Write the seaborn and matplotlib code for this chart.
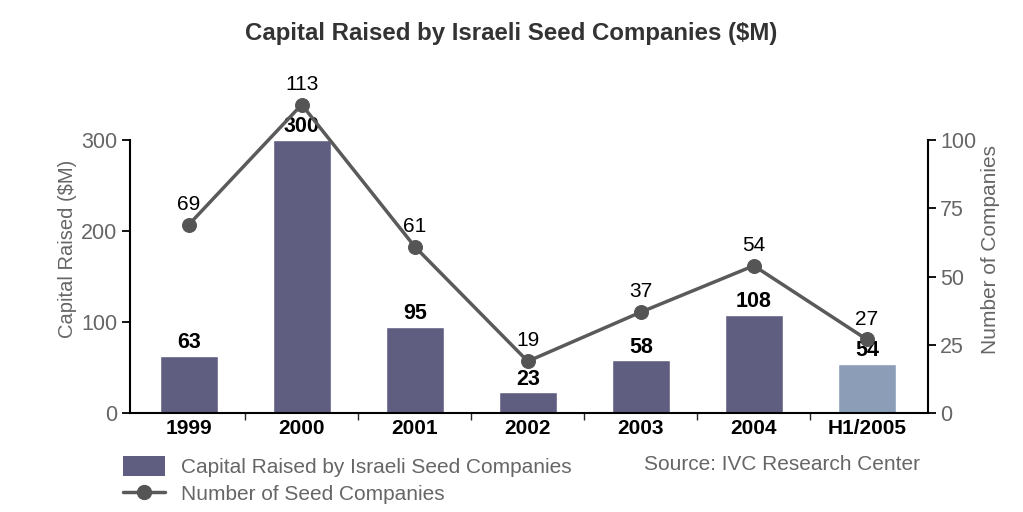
import matplotlib
matplotlib.use("Agg")
import matplotlib.pyplot as plt
import seaborn as sns
import pandas as pd
from matplotlib.patches import Patch
from matplotlib.lines import Line2D

years = ["1999", "2000", "2001", "2002", "2003", "2004", "H1/2005"]
capital = [63, 300, 95, 23, 58, 108, 54]
companies = [69, 113, 61, 19, 37, 54, 27]
bar_colors = ["#605e80"] * 6 + ["#8c9db8"]

sns.set_theme(style="white")
plt.rcParams['font.family'] = ['Liberation Sans', 'DejaVu Sans']

df = pd.DataFrame({"year": years, "capital": capital, "companies": companies})

fig = plt.figure(figsize=(10.23, 5.12), dpi=100)
ax = fig.add_axes([0.127, 0.193, 0.780, 0.640])
sns.barplot(data=df, x="year", y="capital", hue="year", palette=bar_colors,
            width=0.51, legend=False, ax=ax, saturation=1)
ax.set_xlim(-0.52, 6.54)
ax.set_ylim(0, 360)
ax.set_yticks([0, 100, 200, 300])
ax.spines['top'].set_visible(False)
ax.spines['right'].set_visible(False)
ax.spines['left'].set_bounds(0, 300)
for s in ['left', 'bottom']:
    ax.spines[s].set_color('black')
    ax.spines[s].set_linewidth(1.5)
ax.tick_params(axis='y', direction='out', length=6, width=1.3, colors='black',
               labelcolor='#666666', labelsize=15.5, left=True, pad=3)
ax.tick_params(axis='x', which='major', length=0, labelsize=15, labelcolor='black', pad=4)
for lab in ax.get_xticklabels():
    lab.set_fontweight('bold')
ax.set_xticks([i + 0.5 for i in range(6)], minor=True)
ax.tick_params(axis='x', which='minor', direction='out', length=5, width=1, bottom=True)
ax.set_xlabel("")
ax.set_ylabel("Capital Raised ($M)", color='#666666', fontsize=14.5, labelpad=3)

for i, v in enumerate(capital):
    ax.text(i, v + 3, str(v), ha='center', va='bottom', fontsize=15.5,
            fontweight='bold', color='black')

ax2 = ax.twinx()
sns.lineplot(x=list(range(len(years))), y=companies, ax=ax2, color='#5a5a5a',
             linewidth=2.5, marker='o', markersize=10, markerfacecolor='#555555',
             markeredgecolor='#555555')
ax2.set_ylim(0, 120)
ax2.set_yticks([0, 25, 50, 75, 100])
ax2.spines['top'].set_visible(False)
ax2.spines['left'].set_visible(False)
ax2.spines['bottom'].set_visible(False)
ax2.spines['right'].set_bounds(0, 100)
ax2.spines['right'].set_color('black')
ax2.spines['right'].set_linewidth(1.5)
ax2.tick_params(axis='y', direction='out', length=6, width=1.3, colors='black',
                labelcolor='#666666', labelsize=15.5, right=True, pad=3)
ax2.set_ylabel("Number of Companies", color='#666666', fontsize=15, labelpad=3)
for i, v in enumerate(companies):
    ax2.text(i, v + 4.0, str(v), ha='center', va='bottom', fontsize=15, color='black')

fig.suptitle("Capital Raised by Israeli Seed Companies ($M)", x=0.5, y=0.958,
             fontsize=17.3, fontweight='bold', color='#333333')

handles = [Patch(facecolor='#605e80', edgecolor='none'),
           Line2D([0], [0], color='#5a5a5a', lw=2.5, marker='o', markersize=10,
                  markerfacecolor='#555555', markeredgecolor='#555555')]
fig.legend(handles, ["Capital Raised by Israeli Seed Companies", "Number of Seed Companies"],
           loc='upper left', bbox_to_anchor=(0.110, 0.13), frameon=False,
           fontsize=15, labelcolor='#666666', handlelength=2.0, handleheight=1.1,
           labelspacing=0.3, borderpad=0, handletextpad=0.8)
fig.text(0.63, 0.092, "Source: IVC Research Center", fontsize=15, color='#666666',
         ha='left', va='center')

fig.savefig("out.png", dpi=100, facecolor='white')
